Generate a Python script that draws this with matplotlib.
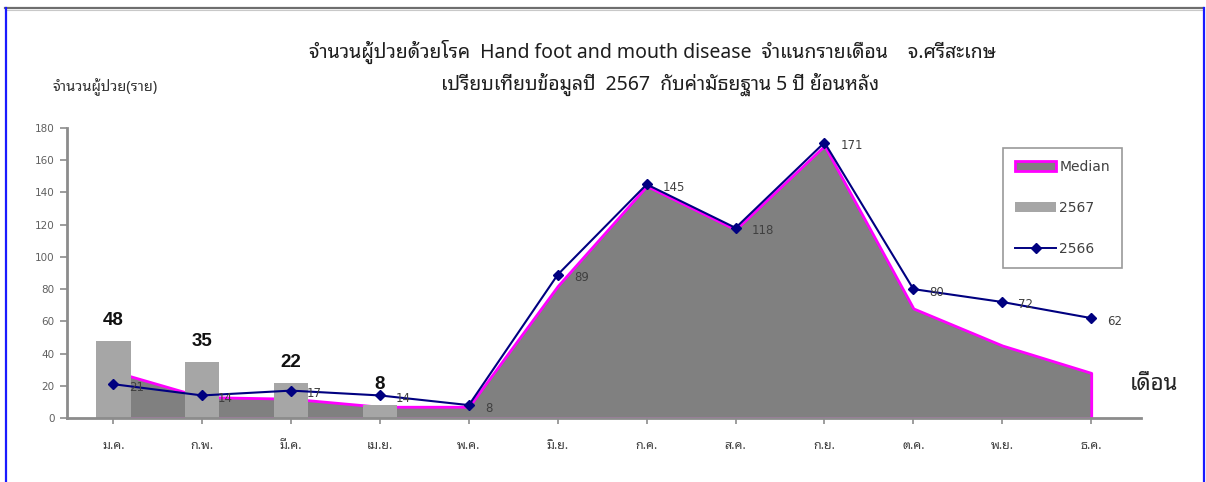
import matplotlib
matplotlib.use("Agg")
import matplotlib.pyplot as plt
from matplotlib.lines import Line2D
from matplotlib.patches import Patch
import numpy as np

plt.rcParams['font.family'] = ['Noto Sans Thai Looped', 'DejaVu Sans']

months = ['ม.ค.', 'ก.พ.', 'มี.ค.', 'เม.ย.', 'พ.ค.', 'มิ.ย.',
          'ก.ค.', 'ส.ค.', 'ก.ย.', 'ต.ค.', 'พ.ย.', 'ธ.ค.']
median_5y = [29, 13, 12, 7, 7, 82, 144, 117, 169, 68, 45, 28]
cases_2567 = [48, 35, 22, 8]
cases_2566 = [21, 14, 17, 14, 8, 89, 145, 118, 171, 80, 72, 62]

x = np.arange(len(months))
W, H = 1206, 482

fig = plt.figure(figsize=(W / 100, H / 100), dpi=100)
ax = fig.add_axes([67 / W, 1 - 418 / H, (1141 - 67) / W, 290 / H])

# median area (drawn first, bars sit on top of it)
ax.fill_between(x, median_5y, 0, facecolor='#808080', edgecolor='#ff00ff',
                linewidth=2, zorder=1)

# 2567 monthly bars
bx = x[:len(cases_2567)]
ax.bar(bx, cases_2567, width=0.39, color='#a6a6a6', zorder=2)
for xi, v in zip(bx, cases_2567):
    ax.annotate(str(v), (xi, v), xytext=(0, 12), textcoords='offset pixels',
                ha='center', va='bottom', fontsize=13.5, fontweight='bold',
                family=['Liberation Sans', 'DejaVu Sans'], color='#111111')

# 2566 line
ax.plot(x, cases_2566, color='#000080', linewidth=1.5, marker='D',
        markersize=5, zorder=3)
for xi, v in zip(x, cases_2566):
    ax.annotate(str(v), (xi, v), xytext=(16, -3), textcoords='offset pixels',
                ha='left', va='center', fontsize=8.5, color='#404040',
                family=['DejaVu Sans'], zorder=4)

ax.set_xlim(-0.52, 11.56)
ax.set_ylim(0, 180)
ax.set_yticks(range(0, 181, 20))
ax.set_xticks(x)
ax.set_xticklabels(months)
for s in ['top', 'right']:
    ax.spines[s].set_visible(False)
for s in ['left', 'bottom']:
    ax.spines[s].set_color('#8c8c8c')
    ax.spines[s].set_linewidth(2)
ax.tick_params(axis='y', length=5, width=1.2, color='#8c8c8c',
               labelsize=7.5, labelcolor='#606060', pad=4)
ax.tick_params(axis='x', length=4, width=1.2, color='#8c8c8c',
               labelsize=9, labelcolor='#404040', pad=11)
for lab in ax.get_yticklabels():
    lab.set_family(['DejaVu Sans'])

handles = [Patch(facecolor='#808080', edgecolor='#ff00ff', linewidth=2),
           Patch(facecolor='#a6a6a6', edgecolor='none'),
           Line2D([], [], color='#000080', marker='D', markersize=5, linewidth=1.4)]
leg = fig.legend(handles, ['Median', '2567', '2566'], loc='upper left',
                 bbox_to_anchor=(1003 / W, 1 - 148 / H), fontsize=10,
                 frameon=True, fancybox=False, edgecolor='#808080',
                 labelspacing=1.95, handlelength=3.0, handleheight=0.75,
                 handletextpad=0.2, borderpad=0.85, borderaxespad=0)
leg.get_frame().set_linewidth(1.2)
for t in leg.get_texts():
    t.set_color('#404040')
    t.set_family(['DejaVu Sans'])

fig.text(652 / W, 1 - 52 / H,
         'จำนวนผู้ป่วยด้วยโรค  Hand foot and mouth disease  จำแนกรายเดือน    จ.ศรีสะเกษ',
         ha='center', va='center', fontsize=14, color='#1e1e1e')
fig.text(660 / W, 1 - 84 / H,
         'เปรียบเทียบข้อมูลปี  2567  กับค่ามัธยฐาน 5 ปี ย้อนหลัง',
         ha='center', va='center', fontsize=14, color='#1e1e1e')
fig.text(53 / W, 1 - 87 / H, 'จำนวนผู้ป่วย(ราย)', ha='left', va='center',
         fontsize=10.5, color='#333333')
fig.text(1130 / W, 1 - 385 / H, 'เดือน', ha='left', va='center',
         fontsize=16, color='#222222')

# outer frame
fig.add_artist(Line2D([5 / W, 1203 / W], [1 - 8 / H, 1 - 8 / H],
                      transform=fig.transFigure, color='#6e6e6e', linewidth=1.6))
fig.add_artist(Line2D([5 / W, 1203 / W], [1 - 10 / H, 1 - 10 / H],
                      transform=fig.transFigure, color='#c8c8c8', linewidth=0.8))
for xe in (5.5, 1203.5):
    fig.add_artist(Line2D([xe / W, xe / W], [0, 1 - 8 / H],
                          transform=fig.transFigure, color='#1a1aff', linewidth=1.6))

fig.savefig('out.png', dpi=100)
